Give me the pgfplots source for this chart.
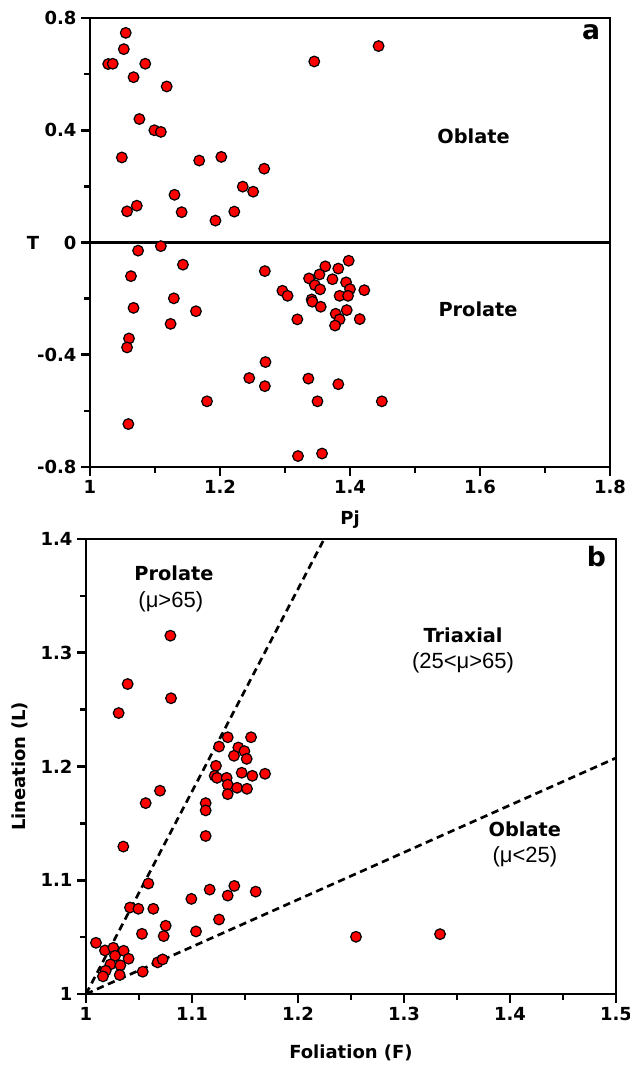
\documentclass[border=0pt]{standalone}
\usepackage{fontspec}
\setmainfont{DejaVu Sans}
\newfontfamily\arial{Liberation Sans}
\usepackage{pgfplots}
\usepackage{pgfplotstable}
\pgfplotsset{compat=1.18}

% Pj-T data (shape parameter vs corrected anisotropy degree)
\pgfplotstableread{
Pj T
1.055 0.747
1.052 0.689
1.028 0.636
1.035 0.637
1.085 0.637
1.067 0.589
1.118 0.556
1.076 0.440
1.099 0.400
1.109 0.394
1.049 0.303
1.168 0.292
1.202 0.305
1.268 0.263
1.235 0.199
1.251 0.181
1.130 0.170
1.057 0.111
1.072 0.131
1.141 0.108
1.193 0.078
1.222 0.110
1.345 0.645
1.444 0.700
1.074 -0.029
1.109 -0.013
1.143 -0.079
1.063 -0.120
1.269 -0.102
1.129 -0.199
1.067 -0.233
1.163 -0.245
1.124 -0.290
1.060 -0.342
1.057 -0.374
1.270 -0.426
1.245 -0.483
1.269 -0.512
1.180 -0.566
1.059 -0.647
1.398 -0.065
1.362 -0.085
1.382 -0.093
1.337 -0.128
1.353 -0.114
1.373 -0.131
1.394 -0.142
1.346 -0.152
1.354 -0.167
1.400 -0.166
1.422 -0.170
1.296 -0.172
1.304 -0.190
1.384 -0.190
1.397 -0.190
1.341 -0.203
1.342 -0.211
1.355 -0.229
1.395 -0.241
1.378 -0.254
1.319 -0.274
1.384 -0.274
1.415 -0.273
1.377 -0.296
1.336 -0.485
1.382 -0.505
1.350 -0.566
1.449 -0.566
1.320 -0.761
1.357 -0.752
}\tabPjT

% Foliation-lineation data
\pgfplotstableread{
F L
1.0796 1.3150
1.0393 1.2725
1.0802 1.2600
1.0308 1.2470
1.1337 1.2257
1.1557 1.2257
1.1255 1.2175
1.1437 1.2167
1.1494 1.2135
1.1396 1.2094
1.1516 1.2067
1.1226 1.2006
1.1214 1.1918
1.1236 1.1900
1.1327 1.1900
1.1469 1.1945
1.1569 1.1918
1.1689 1.1936
1.1337 1.1840
1.1425 1.1813
1.1519 1.1804
1.1337 1.1757
1.1129 1.1678
1.1129 1.1614
1.0698 1.1787
1.0563 1.1678
1.0352 1.1296
1.1129 1.1389
1.0588 1.0971
1.0415 1.0760
1.0494 1.0749
1.0635 1.0749
1.0994 1.0836
1.1167 1.0918
1.1337 1.0865
1.1399 1.0950
1.1601 1.0900
1.1255 1.0655
1.0752 1.0600
1.0733 1.0509
1.0528 1.0529
1.1038 1.0550
1.0094 1.0450
1.0179 1.0383
1.0258 1.0406
1.0355 1.0380
1.0274 1.0336
1.0402 1.0310
1.0230 1.0260
1.0324 1.0252
1.0186 1.0205
1.0160 1.0155
1.0318 1.0167
1.0676 1.0278
1.0723 1.0304
1.0535 1.0196
1.2547 1.0503
1.3340 1.0526
}\tabFL

\pgfplotsset{
  magplot/.style={
    scale only axis,
    anchor=south west,
    axis line style={line width=2.2pt},
    tick align=outside,
    xtick pos=left, ytick pos=left,
    major tick length=6.6pt, minor tick length=4.2pt,
    xtick style={black, line width=2pt},
    ytick style={black, line width=2pt},
    /pgf/number format/assume math mode=true,
    tick label style={font=\bfseries\fontsize{13.5}{16}\selectfont},
    label style={font=\bfseries\fontsize{13.5}{16}\selectfont},
  },
  redpt/.style={only marks, mark=*, mark size=4pt,
    mark options={fill=red, draw=black, line width=0.9pt}},
  guide/.style={black, line width=2pt, dash pattern=on 5.5pt off 3.5pt, no marks},
}

\begin{document}
\begin{tikzpicture}
\useasboundingbox (0,0) rectangle (472.5pt,804.75pt);

% (a) Pj vs T
\begin{axis}[magplot,
  at={(67.5pt,454.5pt)},
  width=390pt, height=336.75pt,
  xmin=1, xmax=1.8, ymin=-0.8, ymax=0.8,
  xtick={1,1.2,1.4,1.6,1.8}, minor xtick={1.1,1.3,1.5,1.7},
  ytick={-0.8,-0.4,0,0.4,0.8}, minor ytick={-0.6,-0.2,0.2,0.6},
  xlabel={Pj}, ylabel={T},
  xlabel style={at={(axis description cs:0.5,0)}, anchor=center, yshift=-39.75pt},
  ylabel style={at={(axis description cs:0,0.5)}, anchor=center, rotate=-90, xshift=-42.75pt},
]
\addplot[redpt] table[x=Pj, y=T] {\tabPjT};
\addplot[black, line width=2.2pt, no marks] coordinates {(1,0) (1.8,0)};
\node[font=\bfseries\fontsize{14.5}{17}\selectfont] at (axis cs:1.590,0.377) {Oblate};
\node[font=\bfseries\fontsize{14.5}{17}\selectfont] at (axis cs:1.597,-0.2375) {Prolate};
\node[font=\bfseries\fontsize{20}{24}\selectfont, anchor=north east] at (rel axis cs:0.99,0.995) {a};
\end{axis}

% (b) Flinn-type diagram
\begin{axis}[magplot,
  at={(64.5pt,59.25pt)},
  width=397.5pt, height=341.25pt,
  xmin=1, xmax=1.5, ymin=1, ymax=1.4,
  xtick={1,1.1,1.2,1.3,1.4,1.5}, minor xtick={1.05,1.15,1.25,1.35,1.45},
  ytick={1,1.1,1.2,1.3,1.4}, minor ytick={1.05,1.15,1.25,1.35},
  xlabel={Foliation (F)}, ylabel={Lineation (L)},
  xlabel style={at={(axis description cs:0.5,0)}, anchor=center, yshift=-44.25pt},
  ylabel style={at={(axis description cs:0,0.5)}, anchor=center, rotate=0, yshift=49.5pt},
]
\addplot[guide] coordinates {(1,1) (1.2247,1.4)};
\addplot[guide] coordinates {(1,1) (1.5,1.2075)};
\addplot[redpt] table[x=F, y=L] {\tabFL};
\node[font=\bfseries\fontsize{14.5}{17}\selectfont] at (axis cs:1.083,1.370) {Prolate};
\node[font=\arial\fontsize{16.5}{19}\selectfont] at (axis cs:1.080,1.3445) {(μ>65)};
\node[font=\bfseries\fontsize{14.5}{17}\selectfont] at (axis cs:1.3557,1.315) {Triaxial};
\node[font=\arial\fontsize{16.5}{19}\selectfont] at (axis cs:1.3557,1.291) {(25<μ>65)};
\node[font=\bfseries\fontsize{14.5}{17}\selectfont] at (axis cs:1.414,1.1447) {Oblate};
\node[font=\arial\fontsize{16.5}{19}\selectfont] at (axis cs:1.414,1.121) {(μ<25)};
\node[font=\bfseries\fontsize{20}{24}\selectfont, anchor=north east] at (rel axis cs:0.99,0.995) {b};
\end{axis}
\end{tikzpicture}
\end{document}
